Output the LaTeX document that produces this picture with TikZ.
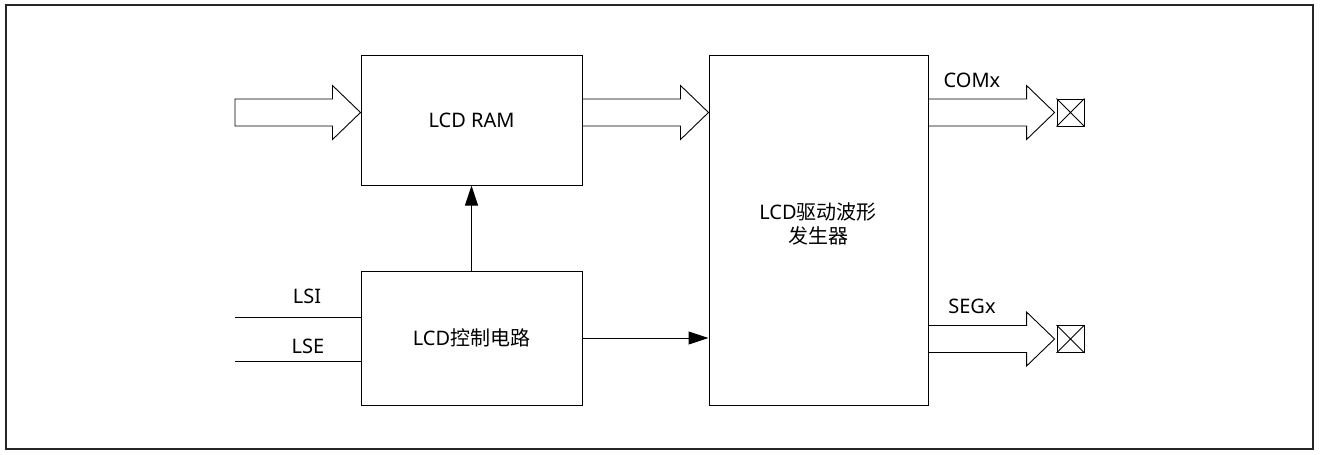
\documentclass[tikz,border=0pt]{standalone}
\usepackage{fontspec}
\setmainfont{Noto Sans}
\newfontfamily\cjk{Noto Sans CJK SC}
\usetikzlibrary{calc,arrows.meta}
\tikzset{
  box/.style={draw, line width=1pt, fill=white, inner sep=0pt, font=\fontsize{20}{24}\selectfont},
  blk/.style={draw, line width=0.9pt, fill=white, line join=miter},
  wire/.style={draw, line width=1pt},
  lbl/.style={inner sep=0pt, anchor=base, font=\fontsize{20}{24}\selectfont},
  pad/.style={draw, line width=0.9pt, minimum width=27pt, minimum height=27pt, inner sep=0pt},
  arr/.style={-{Triangle[length=20pt,width=13pt]}, line width=1pt}
}
\newcommand{\blockarrow}[2]{%
  \path[blk] let \p1=(#1), \p2=(#2) in
    (\x1,\y1-13.5pt) -- (\x2-28pt,\y1-13.5pt) -- (\x2-28pt,\y1-27pt) -- (\x2,\y1)
    -- (\x2-28pt,\y1+27pt) -- (\x2-28pt,\y1+13.5pt) -- (\x1,\y1+13.5pt) -- cycle;}
\begin{document}
\begin{tikzpicture}[x=1pt,y=-1pt]
\useasboundingbox (0,0) rectangle (1320,455);
\draw[line width=1.5pt, black!85] (6,5) rectangle (1313,449);
% boxes
\node[box, minimum width=221pt, minimum height=130pt] (ram) at (471.5,120) {LCD RAM};
\node[box, minimum width=221pt, minimum height=134pt] (ctrl) at (471.5,338) {LCD{\cjk 控制电路}};
\node[box, minimum width=219pt, minimum height=350pt] (drv) at (818.5,230) {};
\node[align=center, inner sep=0pt, font=\fontsize{20}{24}\selectfont] (drvtxt) at (818,224) {LCD{\cjk 驱动波形}\\{\cjk 发生器}};
% pads
\node[pad] (com) at (1070.5,112.5) {};
\draw[line width=0.9pt] (com.north west) -- (com.south east) (com.north east) -- (com.south west);
\node[pad] (seg) at (1070.5,339) {};
\draw[line width=0.9pt] (seg.north west) -- (seg.south east) (seg.north east) -- (seg.south west);
% coordinates
\coordinate (in1) at (235,112.5);
\coordinate (ramout) at (ram.east |- in1);
\coordinate (drvin) at (drv.west |- in1);
\coordinate (ramin) at (ram.west |- in1);
\coordinate (comout) at (drv.east |- com);
\coordinate (comtip) at ($(com.west)+(-2,0)$);
\coordinate (segout) at (drv.east |- seg);
\coordinate (segtip) at ($(seg.west)+(-2,0)$);
% block arrows
\blockarrow{in1}{ramin}
\blockarrow{ramout}{drvin}
\blockarrow{comout}{comtip}
\blockarrow{segout}{segtip}
% lines
\coordinate (lsi) at (235,317);
\coordinate (lse) at (235,361);
\draw[wire] (lsi) -- (ctrl.west |- lsi);
\draw[wire] (lse) -- (ctrl.west |- lse);
\draw[arr] (ctrl.north) -- (ram.south);
\draw[arr] (ctrl.east) -- (drv.west |- ctrl.east);
% labels
\node[lbl] (tlsi) at (307,303) {LSI};
\node[lbl] (tlse) at (308,353) {LSE};
\node[lbl] (tcom) at (972,87) {COMx};
\node[lbl] (tseg) at (972,313) {SEGx};
\end{tikzpicture}
\end{document}
